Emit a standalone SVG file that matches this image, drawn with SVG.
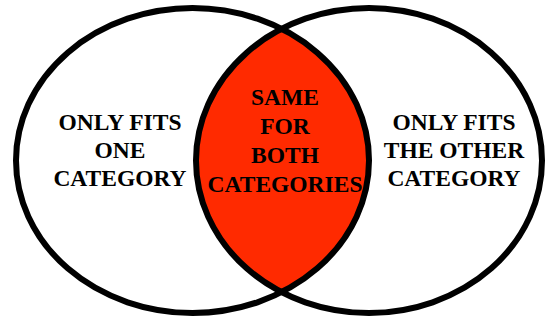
<svg xmlns="http://www.w3.org/2000/svg" width="548" height="321" viewBox="0 0 548 321">
<style>
.ring{fill:none;stroke:#000;stroke-width:6}
.lbl{font-family:"Liberation Serif","Times New Roman",serif;font-weight:bold;font-size:23.5px;fill:#000;text-anchor:middle}
</style>
<defs>
<clipPath id="clipRight"><ellipse cx="369" cy="160.5" rx="173" ry="152.5"/></clipPath>
</defs>
<rect x="0" y="0" width="548" height="321" fill="#fff"/>
<g id="overlap">
<ellipse cx="192.5" cy="160.5" rx="176.5" ry="152.5" fill="#FF2A00" clip-path="url(#clipRight)"/>
</g>
<g id="left-category">
<ellipse class="ring" cx="192.5" cy="160.5" rx="176.5" ry="152.5"/>
<text class="lbl" x="120" y="130">ONLY FITS</text>
<text class="lbl" x="120" y="158">ONE</text>
<text class="lbl" x="120" y="186">CATEGORY</text>
</g>
<g id="right-category">
<ellipse class="ring" cx="369" cy="160.5" rx="173" ry="152.5"/>
<text class="lbl" x="454" y="130">ONLY FITS</text>
<text class="lbl" x="454" y="158">THE OTHER</text>
<text class="lbl" x="454" y="186">CATEGORY</text>
</g>
<g id="both-categories">
<text class="lbl" x="285" y="105">SAME</text>
<text class="lbl" x="285" y="134">FOR</text>
<text class="lbl" x="285" y="163">BOTH</text>
<text class="lbl" x="285" y="192">CATEGORIES</text>
</g>
</svg>
